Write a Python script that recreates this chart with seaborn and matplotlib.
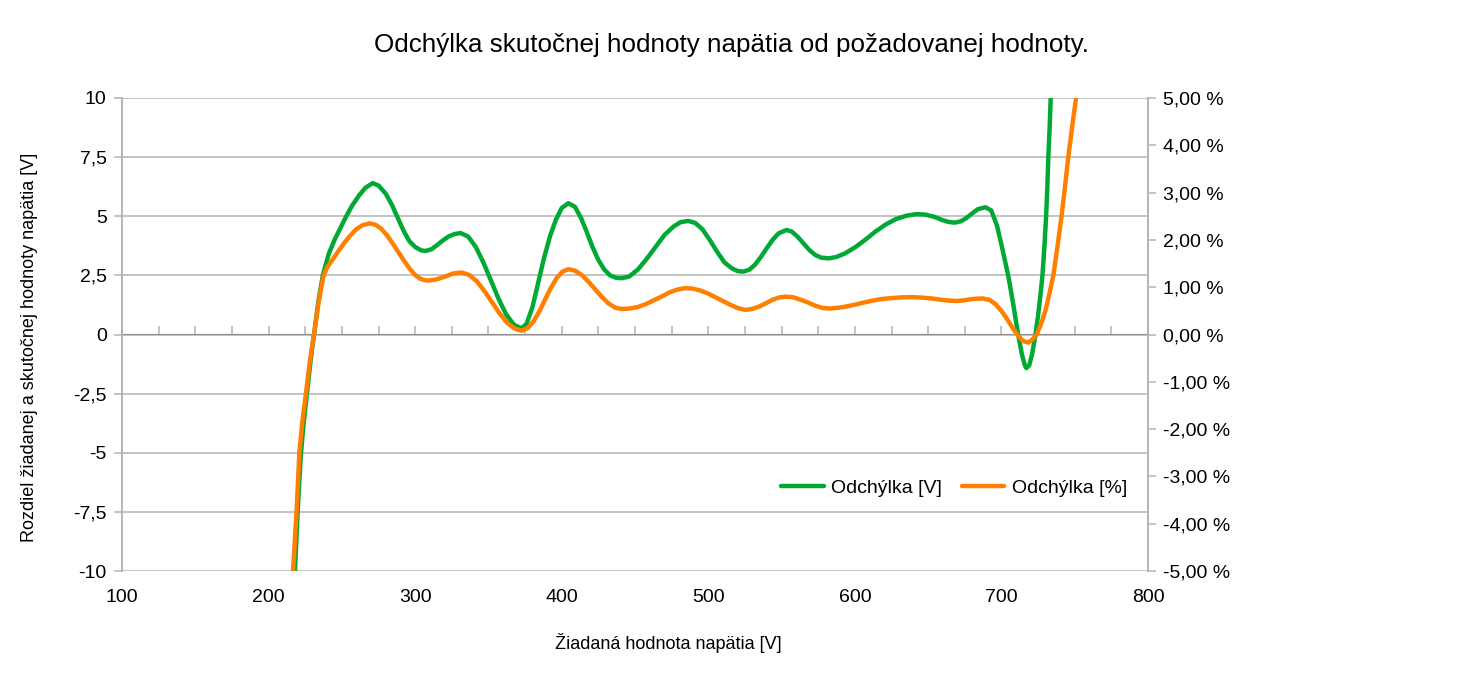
import seaborn as sns
import matplotlib.pyplot as plt
import pandas as pd
from matplotlib.ticker import FuncFormatter, MultipleLocator, NullFormatter

# requested voltage [V] and deviation [V] (green curve, left axis)
u_volt = [216, 218, 220, 222, 224, 226, 228.5, 231, 234, 237, 241, 245, 249, 253, 257, 262, 266, 271,
          275, 280, 284, 288, 292, 296, 300, 304, 307,
          311, 315, 319, 323, 327, 331,
          336.2, 341.4, 346.6, 351.8, 357, 362.2, 367.4, 372.6,
          376, 380, 384, 388, 392, 396, 400, 404.5,
          409, 413, 417, 421, 425, 429, 433, 437, 441,
          446, 452, 458, 464, 470, 476, 481, 486.4,
          491, 496, 501, 506, 511, 516, 520, 524,
          528, 532, 536, 540, 544, 548, 553.4,
          557, 561, 565, 569, 573, 577, 582,
          587, 593, 600, 607, 614, 621, 628, 635, 642,
          648, 654, 660, 664, 668,
          672, 676, 680, 684, 689,
          693, 697, 700, 704.6, 708, 711.4, 714, 716, 717, 719, 721, 723, 725, 726.5, 728,
          729.3, 730.5, 731.3, 732, 733, 733.6, 735]
dev_volt = [-11.2, -10.0, -7.3, -5.1, -3.7, -2.6, -1.2, 0.0, 1.4, 2.5, 3.4, 4.0, 4.5, 5.0, 5.45, 5.9, 6.2, 6.4,
            6.3, 5.95, 5.5, 4.95, 4.4, 3.95, 3.7, 3.56, 3.53,
            3.6, 3.78, 3.98, 4.15, 4.25, 4.29,
            4.14, 3.7, 3.04, 2.27, 1.5, 0.84, 0.41, 0.26,
            0.45, 1.15, 2.2, 3.25, 4.15, 4.85, 5.35, 5.55,
            5.4, 4.95, 4.35, 3.7, 3.15, 2.75, 2.5, 2.4, 2.38,
            2.45, 2.75, 3.2, 3.7, 4.2, 4.55, 4.75, 4.8,
            4.72, 4.45, 4.0, 3.5, 3.05, 2.8, 2.68, 2.66,
            2.74, 2.96, 3.29, 3.66, 4.01, 4.28, 4.42,
            4.35, 4.13, 3.85, 3.57, 3.36, 3.25, 3.22,
            3.27, 3.42, 3.68, 4.0, 4.35, 4.65, 4.88, 5.02, 5.09,
            5.07, 4.98, 4.83, 4.76, 4.73,
            4.78, 4.92, 5.12, 5.3, 5.38,
            5.25, 4.6, 3.8, 2.5, 1.3, 0.0, -0.85, -1.3, -1.42, -1.3, -0.8, -0.1, 0.8, 1.6, 2.5,
            3.7, 5.0, 6.2, 7.5, 8.9, 10.0, 12.5]

# requested voltage [V] and deviation [%] (orange curve, right axis)
u_pct = [215, 216.7, 219.1, 221, 223, 225.5, 228, 231, 234, 237.3, 240, 244, 248, 252, 256, 260, 264, 269,
         272.9, 276.8, 280.7, 284.6, 288.5, 292.4, 296.3, 300.2, 304.1, 308,
         314, 320, 326, 331.7,
         336.8, 341.9, 347, 352.2, 357.3, 362.4, 367.5, 372.6,
         376.6, 380.6, 384.6, 388.5, 392.5, 396.5, 400.5, 404.5,
         409, 413.6, 418.2, 422.7, 427.2, 431.8, 436.3, 440.9,
         446.4, 451.8, 457.2, 462.6, 468, 473.5, 478.9, 484.3,
         489.4, 494.5, 499.6, 504.7, 509.8, 514.9, 520, 525.1,
         530, 534.7, 539.3, 543.5, 548, 552.4,
         557.5, 562.6, 567.8, 572.9, 578, 583.1,
         590, 597, 604, 611, 618, 625, 632, 638.6,
         646, 653, 660, 665, 669.4,
         674, 679, 683, 687.6,
         692, 696, 700, 704, 708, 712, 715, 718.4, 721, 724, 727, 730, 733, 735.4, 738.2,
         741, 743.3, 745.6, 748.3, 750.9, 755]
dev_pct = [-5.6, -5.0, -3.75, -2.5, -1.85, -1.25, -0.6, 0.0, 0.65, 1.22, 1.42, 1.6, 1.78, 1.95, 2.1, 2.23, 2.31, 2.35,
           2.32, 2.24, 2.1, 1.93, 1.745, 1.56, 1.39, 1.25, 1.17, 1.14,
           1.16, 1.22, 1.29, 1.31,
           1.26, 1.13, 0.93, 0.695, 0.46, 0.26, 0.13, 0.08,
           0.13, 0.27, 0.48, 0.73, 0.98, 1.19, 1.33, 1.38,
           1.35, 1.26, 1.12, 0.96, 0.8, 0.66, 0.57, 0.54,
           0.55, 0.58, 0.64, 0.72, 0.8, 0.89, 0.95, 0.98,
           0.97, 0.93, 0.87, 0.79, 0.71, 0.63, 0.56, 0.52,
           0.54, 0.59, 0.66, 0.73, 0.78, 0.8,
           0.79, 0.74, 0.68, 0.61, 0.56, 0.55,
           0.57, 0.61, 0.66, 0.71, 0.75, 0.77, 0.785, 0.79,
           0.78, 0.76, 0.73, 0.715, 0.71,
           0.72, 0.745, 0.757, 0.76,
           0.73, 0.64, 0.5, 0.32, 0.12, -0.05, -0.14, -0.17, -0.11, 0.0, 0.22, 0.5, 0.9, 1.25, 1.85,
           2.5, 3.1, 3.75, 4.4, 5.0, 6.0]

GREEN = "#00a933"
ORANGE = "#ff8000"
GRAY = "#b3b3b3"

sns.set_style("white")
plt.rcParams['font.family'] = ['Liberation Sans', 'DejaVu Sans']
plt.rcParams['text.color'] = 'black'

df_v = pd.DataFrame({"u": u_volt, "dev": dev_volt})
df_p = pd.DataFrame({"u": u_pct, "dev": dev_pct})

fig = plt.figure(figsize=(14.65, 6.8), dpi=100)
ax = fig.add_axes([122 / 1465, 1 - 571 / 680, 1026 / 1465, 473 / 680])
ax2 = ax.twinx()

sns.lineplot(ax=ax, data=df_v, x="u", y="dev", color=GREEN, lw=3.2, label="Odchýlka [V]", legend=False,
             solid_joinstyle="round", solid_capstyle="round")
sns.lineplot(ax=ax2, data=df_p, x="u", y="dev", color=ORANGE, lw=3.2, label="Odchýlka [%]", legend=False,
             solid_joinstyle="round", solid_capstyle="round")

ax.set_xlim(100, 800)
ax.set_ylim(-10, 10)
ax2.set_ylim(-5, 5)

ax.xaxis.set_major_locator(MultipleLocator(100))
ax.yaxis.set_major_locator(MultipleLocator(2.5))
ax2.yaxis.set_major_locator(MultipleLocator(1))

ax.yaxis.set_major_formatter(FuncFormatter(lambda v, p: f"{v:g}".replace(".", ",")))
ax2.yaxis.set_major_formatter(FuncFormatter(lambda v, p: f"{v:.2f}".replace(".", ",") + " %"))

ax.grid(axis="y", color=GRAY, lw=1.1)
ax.grid(axis="x", visible=False)
ax.set_xlabel("")
ax.set_ylabel("")
ax2.set_ylabel("")

for a in (ax, ax2):
    for side in ("top", "bottom"):
        a.spines[side].set_visible(False)
    for side in ("left", "right"):
        a.spines[side].set_color(GRAY)
        a.spines[side].set_linewidth(1.1)

ax.tick_params(axis="y", direction="out", length=6, width=1.1, color=GRAY,
               labelsize=14, pad=5, left=True, labelcolor="black")
ax.tick_params(axis="x", length=0, labelsize=14, pad=13, labelcolor="black")
ax2.tick_params(axis="y", direction="out", length=6, width=1.1, color=GRAY,
                labelsize=14, pad=5, right=True, labelcolor="black")

# x axis line crossing at zero with tick marks every 25 V
sec = ax.secondary_xaxis(0.5)
sec.xaxis.set_major_locator(MultipleLocator(25))
sec.xaxis.set_major_formatter(NullFormatter())
sec.tick_params(axis="x", direction="out", length=6, width=1.1, color=GRAY)
sec.spines["bottom"].set_color(GRAY)
sec.spines["bottom"].set_linewidth(1.1)

handles = ax.get_lines()[:1] + ax2.get_lines()[:1]
ax2.legend(handles, ["Odchýlka [V]", "Odchýlka [%]"], loc="center", bbox_to_anchor=(0.811, 0.175),
           ncol=2, frameon=False, fontsize=14, handlelength=2.2, columnspacing=1.0, handletextpad=0.4)

fig.suptitle("Odchýlka skutočnej hodnoty napätia od požadovanej hodnoty.", x=0.499, y=1 - 45 / 680,
             va="center", fontsize=18.7, color="black")
fig.text(668 / 1465, 1 - 643 / 680, "Žiadaná hodnota napätia [V]", ha="center", va="center", fontsize=13)
fig.text(30 / 1465, 1 - 347 / 680, "Rozdiel žiadanej a skutočnej hodnoty napätia [V]", ha="center",
         va="center", rotation=90, fontsize=13)

fig.savefig("out.png", dpi=100)
